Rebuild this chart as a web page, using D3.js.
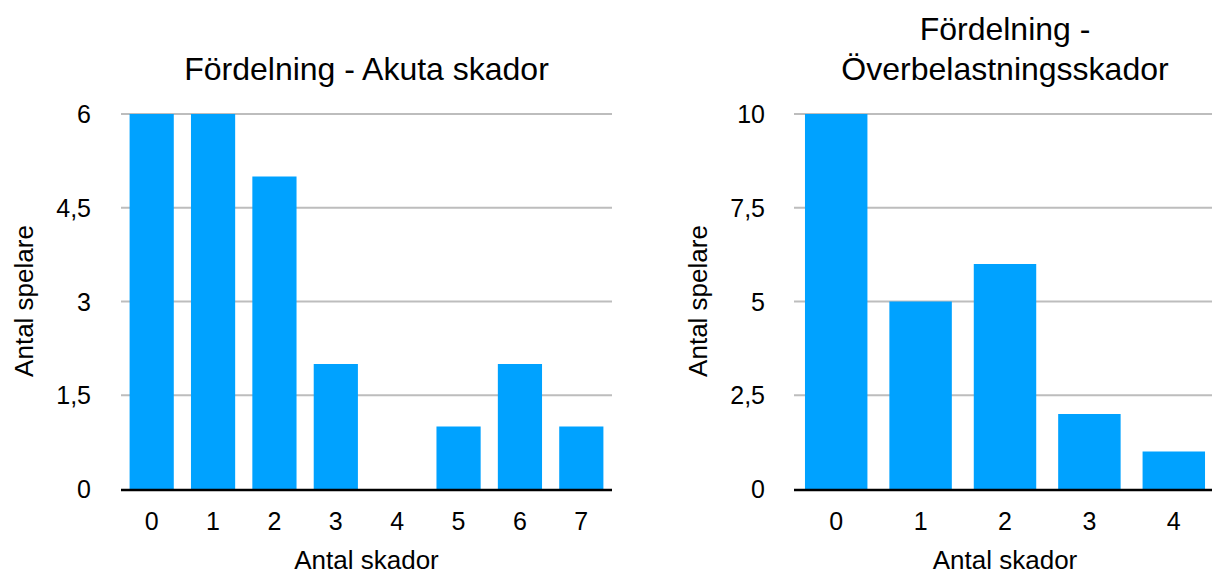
<!DOCTYPE html>
<html><head><meta charset="utf-8">
<script src="https://cdn.jsdelivr.net/npm/d3@7"></script>
<style>
body{margin:0;background:#fff;overflow:hidden}
svg{display:block}
text{font-family:"Liberation Sans",Arial,Helvetica,sans-serif;fill:#000}
</style></head>
<body>
<svg id="chart" width="1212" height="574"></svg>
<script>
// Data
const acuteCategories = ["0","1","2","3","4","5","6","7"];
const acuteValues = [6,6,5,2,0,1,2,1];
const acuteTicks = [0,1.5,3,4.5,6];
const acuteTickLabels = ["0","1,5","3","4,5","6"];
const overuseCategories = ["0","1","2","3","4"];
const overuseValues = [10,5,6,2,1];
const overuseTicks = [0,2.5,5,7.5,10];
const overuseTickLabels = ["0","2,5","5","7,5","10"];
const titles = [["Fördelning - Akuta skador"],["Fördelning -","Överbelastningsskador"]];
const xTitle = "Antal skador";
const yTitle = "Antal spelare";

const svg = d3.select("#chart");
const y0 = 489, y1 = 114;
const barColor = "#00A2FF";

function drawPanel(cfg){
  const g = svg.append("g");
  const x = d3.scaleBand().domain(cfg.cats).range([cfg.x0, cfg.x1]).paddingInner(cfg.pad).paddingOuter(cfg.pad/2);
  const y = d3.scaleLinear().domain([0, cfg.max]).range([y0, y1]);
  // gridlines
  g.selectAll("line.grid").data(cfg.ticks.filter(t=>t>0)).join("line")
    .attr("x1", cfg.x0).attr("x2", cfg.x1)
    .attr("y1", d=>y(d)).attr("y2", d=>y(d))
    .attr("stroke","#BDBDBD").attr("stroke-width",2);
  // bars
  g.selectAll("rect").data(cfg.vals).join("rect")
    .attr("x",(d,i)=>x(cfg.cats[i])).attr("width",x.bandwidth())
    .attr("y",d=>y(d)).attr("height",d=>y0-y(d))
    .attr("fill",barColor);
  // axis line
  g.append("line").attr("x1",cfg.x0).attr("x2",cfg.x1).attr("y1",y0+1).attr("y2",y0+1)
    .attr("stroke","#000").attr("stroke-width",2.5);
  // y tick labels
  g.selectAll("text.yt").data(cfg.ticks).join("text")
    .attr("x",cfg.labelX).attr("y",d=>y(d)).attr("dy","0.36em")
    .attr("text-anchor","end").style("font-size","25px")
    .text((d,i)=>cfg.tickLabels[i]);
  // x tick labels
  g.selectAll("text.xt").data(cfg.cats).join("text")
    .attr("x",d=>x(d)+x.bandwidth()/2).attr("y",530)
    .attr("text-anchor","middle").style("font-size","25px")
    .text(d=>d);
  // x title
  const cx = (cfg.x0+cfg.x1)/2;
  g.append("text").attr("x",cx).attr("y",569).attr("text-anchor","middle")
    .style("font-size","26px").text(xTitle);
  // y title
  g.append("text").attr("transform",`translate(${cfg.yTitleX},301) rotate(-90)`)
    .attr("text-anchor","middle").style("font-size","26px").text(yTitle);
  // title
  cfg.title.forEach((t,i)=>{
    g.append("text").attr("x",cx).attr("y",cfg.titleY + i*40)
      .attr("text-anchor","middle").style("font-size","32px").text(t);
  });
}

drawPanel({cats:acuteCategories, vals:acuteValues, ticks:acuteTicks, tickLabels:acuteTickLabels,
  max:6, x0:121, x1:612, pad:0.28, labelX:91, yTitleX:33, title:titles[0], titleY:80});
drawPanel({cats:overuseCategories, vals:overuseValues, ticks:overuseTicks, tickLabels:overuseTickLabels,
  max:10, x0:794, x1:1216, pad:0.26, labelX:765, yTitleX:707, title:titles[1], titleY:40});
</script>
</body></html>
